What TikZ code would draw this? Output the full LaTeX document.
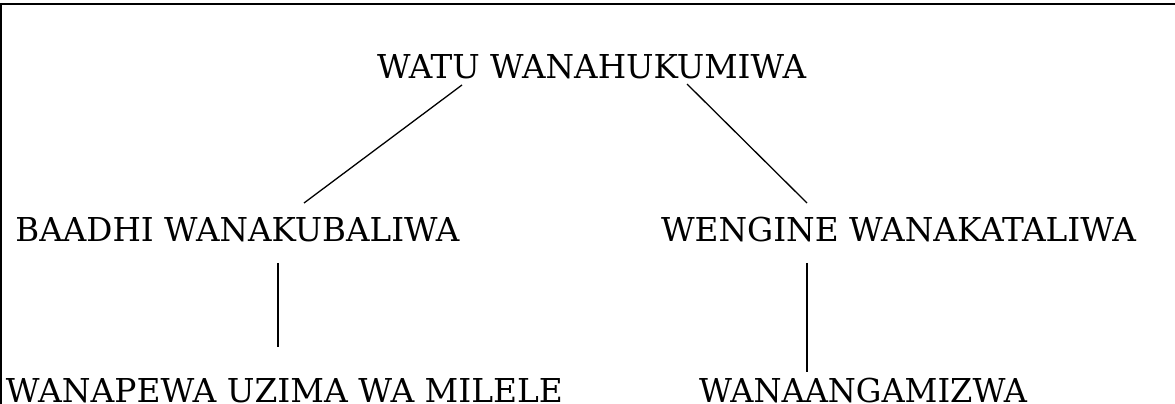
\documentclass[tikz,border=0pt]{standalone}
\usepackage{fontspec}
\usepackage{graphicx}
\setmainfont{DejaVu Serif}
\usetikzlibrary{calc}
\newsavebox\lblbox
\newlength\lblw
\newcommand\fitw[2]{\sbox\lblbox{#2}\setlength\lblw{\wd\lblbox}\pgfmathsetmacro\lblr{#1/\lblw}\scalebox{\lblr}[1]{\usebox\lblbox}}
\begin{document}
\begin{tikzpicture}[x=1pt,y=1pt,
  lbl/.style={inner sep=0pt, anchor=base, font=\fontsize{32.9}{40}\selectfont},
  conn/.style={line width=1.3pt},
  frame/.style={line width=2pt}]
\useasboundingbox (0,0) rectangle (1175,404);
\fill[white] (0,0) rectangle (1175,404);
% frame fragments
\draw[frame] (0,400) -- (1175,400);
\draw[frame] (1.2,0) -- (1.2,401);
% labels
\node[lbl] (watu) at (591.5,325) {\fitw{429}{WATU WANAHUKUMIWA}};
\node[lbl] (baadhi) at (237.5,162) {\fitw{444}{BAADHI WANAKUBALIWA}};
\node[lbl] (wengine) at (898.5,162) {\fitw{475}{WENGINE WANAKATALIWA}};
\node[lbl] (wanapewa) at (284.5,1.5) {\fitw{557}{WANAPEWA UZIMA WA MILELE}};
\node[lbl] (wanaang) at (863,1.5) {\fitw{328}{WANAANGAMIZWA}};
% connectors
\draw[conn] ($(watu.base)+(-129.5,-6)$) -- ($(baadhi.base)+(66.5,39)$);
\draw[conn] ($(watu.base)+(95.5,-5)$) -- ($(wengine.base)+(-91.5,39)$);
\draw[conn] ($(baadhi.base)+(40.5,-21)$) -- ($(wanapewa.base)+(-6.5,55.5)$);
\draw[conn] ($(wengine.base)+(-91.5,-21)$) -- ($(wanaang.base)+(-56,30.5)$);
\end{tikzpicture}
\end{document}
